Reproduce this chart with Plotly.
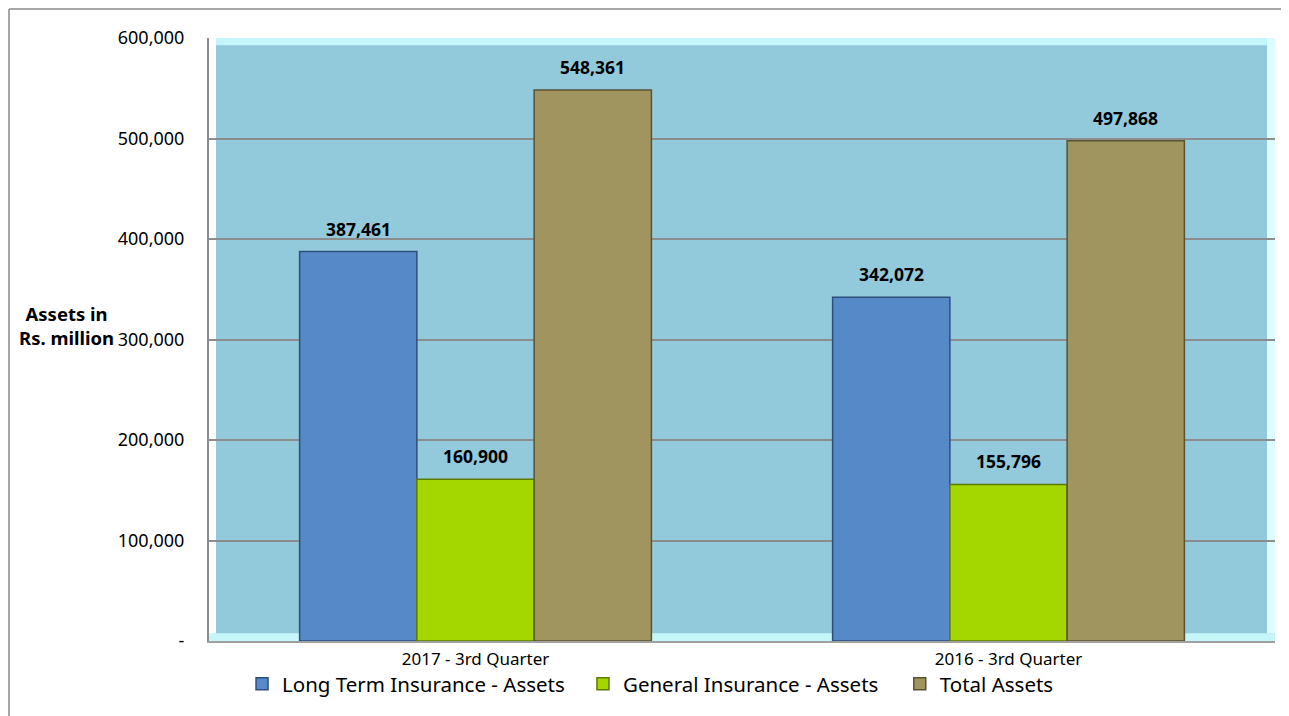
import plotly.graph_objects as go

categories = ["2017 - 3rd Quarter", "2016 - 3rd Quarter"]
series_names = ["Long Term Insurance - Assets", "General Insurance - Assets", "Total Assets"]
long_term = [387461, 342072]
general = [160900, 155796]
total = [548361, 497868]
y_tick_vals = [0, 100000, 200000, 300000, 400000, 500000, 600000]
y_tick_text = ["-", "100,000", "200,000", "300,000", "400,000", "500,000", "600,000"]

colors = ["#5689C8", "#A4D600", "#A0955E"]
line_colors = ["#2E4F7A", "#5E7A00", "#5A5333"]
FONT = "Noto Sans, Tahoma, DejaVu Sans"

legend_names = ["legend", "legend2", "legend3"]
legend_x = [0.031, 0.3508, 0.648]

BAR_PX = 1066 / 2 * (1 - 0.34) / 3

fig = go.Figure()
annotations = []
for i, (name, vals, c, lc) in enumerate(zip(series_names, [long_term, general, total], colors, line_colors)):
    fig.add_trace(go.Bar(
        x=categories, y=vals, name=name, legend=legend_names[i],
        marker=dict(color=c, line=dict(color=lc, width=1.5)),
    ))
    for cat, v in zip(categories, vals):
        annotations.append(dict(
            x=cat, y=v, xref="x", yref="y", text=f"<b>{v:,}</b>", showarrow=False,
            xanchor="center", yanchor="bottom", xshift=(i - 1) * BAR_PX, yshift=9,
            font=dict(family=FONT, size=17.5, color="black"),
        ))

annotations.append(dict(text="<b>Assets in<br>Rs. million</b>", xref="paper", yref="paper",
                        x=-0.087, y=0.524, xanchor="right", yanchor="middle", showarrow=False,
                        align="center", font=dict(family=FONT, size=18.5, color="black")))

legend_common = dict(orientation="h", y=-0.0713, yanchor="middle", xanchor="left",
                     font=dict(family=FONT, size=20.5, color="black"),
                     bgcolor="rgba(0,0,0,0)", itemwidth=30)

fig.update_layout(
    width=1281, height=708,
    paper_bgcolor="white", plot_bgcolor="#92C9DB",
    margin=dict(l=201, r=14, t=30, b=75),
    barmode="group", bargap=0.34, bargroupgap=0,
    font=dict(family=FONT, size=17, color="black"),
    showlegend=True,
    legend=dict(x=legend_x[0], **legend_common),
    legend2=dict(x=legend_x[1], **legend_common),
    legend3=dict(x=legend_x[2], **legend_common),
    yaxis=dict(range=[0, 600000], tickvals=y_tick_vals, ticktext=y_tick_text,
               showgrid=True, gridcolor="#8C8C8C", gridwidth=1.5,
               showline=True, linecolor="#8C8C8C", linewidth=2,
               zeroline=False, ticks="", ticklabelstandoff=19,
               tickfont=dict(family=FONT, size=18)),
    xaxis=dict(showline=True, linecolor="#A0A0A0", linewidth=2, ticks="",
               tickfont=dict(family=FONT, size=17), ticklabelstandoff=2),
    annotations=annotations,
    shapes=[
        dict(type="line", xref="paper", yref="paper", x0=-0.1876, x1=-0.1876, y0=-0.2, y1=1.048,
             line=dict(color="#888888", width=1.5)),
        dict(type="line", xref="paper", yref="paper", x0=-0.1876, x1=1.02, y0=1.048, y1=1.048,
             line=dict(color="#888888", width=1.5)),
        dict(type="rect", xref="paper", yref="paper", x0=0, x1=0.0066, y0=0, y1=1,
             fillcolor="#FFFFFF", line=dict(width=0), layer="below"),
        dict(type="rect", xref="paper", yref="paper", x0=0, x1=1, y0=0, y1=0.013,
             fillcolor="#C4F6FA", line=dict(width=0), layer="below"),
        dict(type="rect", xref="paper", yref="paper", x0=0.0066, x1=1, y0=0.988, y1=1,
             fillcolor="#C4F6FA", line=dict(width=0), layer="below"),
        dict(type="rect", xref="paper", yref="paper", x0=0.9925, x1=1, y0=0.013, y1=1,
             fillcolor="#DDFCFF", line=dict(width=0), layer="below"),
    ],
)

fig.write_html("out.html")
